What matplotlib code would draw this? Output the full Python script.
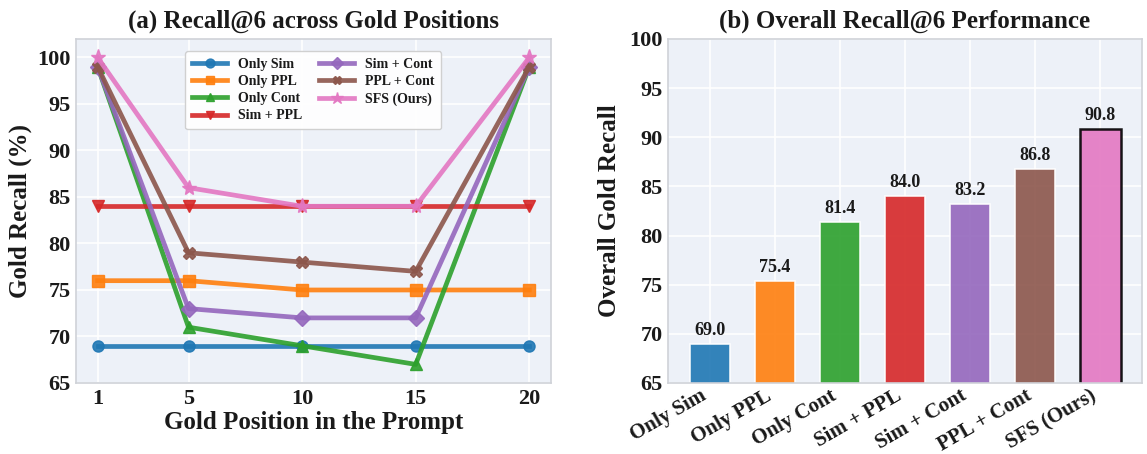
import matplotlib
matplotlib.use("Agg")
import matplotlib.pyplot as plt

plt.rcParams["font.family"] = ["Liberation Serif", "DejaVu Serif"]
plt.rcParams["font.weight"] = "bold"
plt.rcParams["axes.labelweight"] = "bold"
plt.rcParams["axes.titleweight"] = "bold"

# Data
positions = [1, 5, 10, 15, 20]
methods = ["Only Sim", "Only PPL", "Only Cont", "Sim + PPL",
           "Sim + Cont", "PPL + Cont", "SFS (Ours)"]
recall_only_sim = [69, 69, 69, 69, 69]
recall_only_ppl = [76, 76, 75, 75, 75]
recall_only_cont = [99, 71, 69, 67, 99]
recall_sim_ppl = [84, 84, 84, 84, 84]
recall_sim_cont = [99, 73, 72, 72, 99]
recall_ppl_cont = [99, 79, 78, 77, 99]
recall_sfs = [100, 86, 84, 84, 100]
overall_recall = [69.0, 75.4, 81.4, 84.0, 83.2, 86.8, 90.8]

series = [recall_only_sim, recall_only_ppl, recall_only_cont, recall_sim_ppl,
          recall_sim_cont, recall_ppl_cont, recall_sfs]
colors = ["#1f77b4", "#ff7f0e", "#2ca02c", "#d62728",
          "#9467bd", "#8c564b", "#e377c2"]
markers = ["o", "s", "^", "v", "D", "X", "*"]

bg = "#EDF1F8"
text_c = "#1a1a1a"

fig = plt.figure(figsize=(11.47, 4.54), dpi=100)
ax1 = fig.add_axes([0.0663, 0.1564, 0.414, 0.758])
ax2 = fig.add_axes([0.5824, 0.1564, 0.4133, 0.758])

for ax in (ax1, ax2):
    ax.set_facecolor(bg)
    ax.grid(True, color="white", linewidth=1.2)
    ax.set_axisbelow(True)
    for s in ax.spines.values():
        s.set_color("#cfd2d8")
        s.set_linewidth(1.2)
    ax.tick_params(length=0, labelsize=16, colors=text_c, pad=4)

# (a) line chart
for vals, name, c, m in zip(series, methods, colors, markers):
    ms = 11 if m == "*" else 8
    ax1.plot(positions, vals, color=c, marker=m, markersize=ms,
             linewidth=3.4, label=name, alpha=0.9)
ax1.set_xticks(positions)
ax1.set_ylim(65, 102)
ax1.set_yticks([65, 70, 75, 80, 85, 90, 95, 100])
ax1.set_xlabel("Gold Position in the Prompt", fontsize=18, color=text_c, labelpad=2)
ax1.set_ylabel("Gold Recall (%)", fontsize=18, color=text_c, labelpad=4)
ax1.set_title("(a) Recall@6 across Gold Positions", fontsize=18, color=text_c, pad=8)
leg = ax1.legend(loc="upper center", ncol=2, fontsize=10, frameon=True,
                 borderpad=0.5, handlelength=2.5, columnspacing=1.2,
                 labelspacing=0.3, markerscale=0.8,
                 bbox_to_anchor=(0.5, 0.985))
leg.get_frame().set_facecolor("white")
leg.get_frame().set_edgecolor("#cccccc")
leg.get_frame().set_alpha(0.9)
for t in leg.get_texts():
    t.set_color(text_c)

# (b) bar chart
x = list(range(len(methods)))
bars = ax2.bar(x, overall_recall, width=0.62, color=colors, alpha=0.9,
               edgecolor="white", linewidth=1.2)
bars[-1].set_edgecolor("black")
bars[-1].set_linewidth(1.8)
for b, v in zip(bars, overall_recall):
    ax2.text(b.get_x() + b.get_width() / 2, v + 0.5, f"{v:.1f}",
             ha="center", va="bottom", fontsize=13, color=text_c)
ax2.set_ylim(65, 100)
ax2.set_yticks([65, 70, 75, 80, 85, 90, 95, 100])
ax2.set_xticks(x)
ax2.set_xticklabels(methods, rotation=30, ha="right", fontsize=15)
ax2.tick_params(axis="x", pad=2)
ax2.set_ylabel("Overall Gold Recall", fontsize=18, color=text_c, labelpad=6)
ax2.set_title("(b) Overall Recall@6 Performance", fontsize=18, color=text_c, pad=8)

fig.savefig("out.png", dpi=100)
